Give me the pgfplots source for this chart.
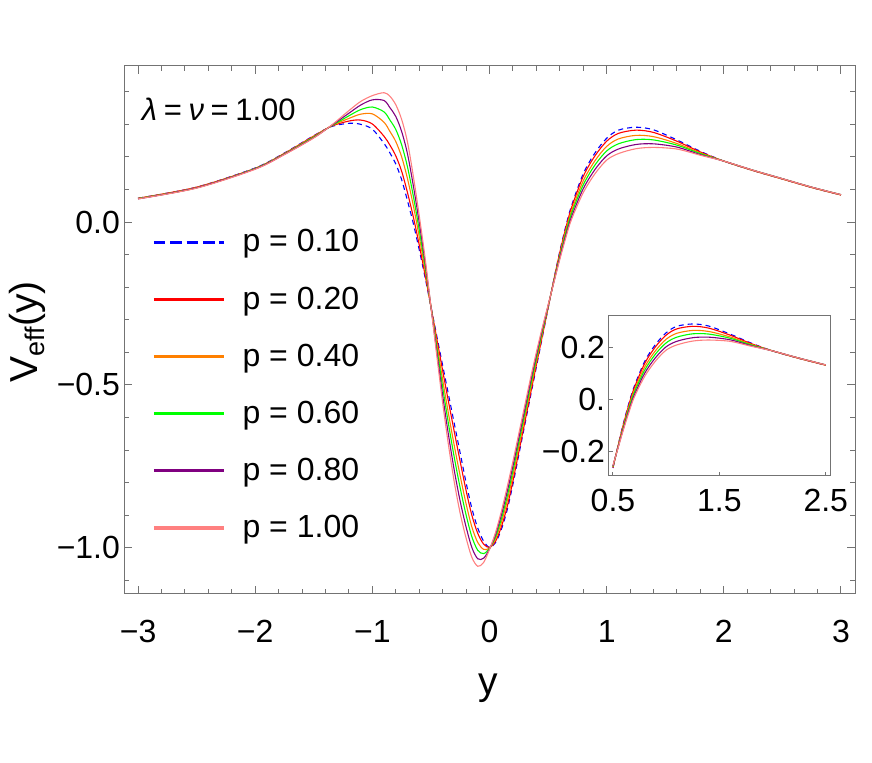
\documentclass[border=0pt]{standalone}
\usepackage{pgfplots}
\pgfplotsset{compat=1.18}
\usepackage{pgfplotstable}
\usepackage{fontspec}
\setmainfont{Liberation Sans}

\definecolor{mmaorange}{rgb}{1,0.5,0}
\definecolor{mmapurple}{rgb}{0.5,0,0.5}
\definecolor{mmapink}{rgb}{1,0.5,0.5}
\definecolor{framegray}{gray}{0.45}

% V_eff(y), columns: p=0.10 (b), 0.20 (r), 0.40 (o), 0.60 (g), 0.80 (u), 1.00 (k)
\pgfplotstableread{
x      b       r       o       g       u       k
-3.00  0.073   0.073   0.072   0.072   0.071   0.071
-2.50  0.107   0.107   0.106   0.105   0.105   0.104
-2.00  0.166   0.165   0.164   0.164   0.163   0.162
-1.75  0.212   0.211   0.210   0.209   0.208   0.207
-1.50  0.265   0.264   0.262   0.261   0.259   0.258
-1.35  0.293   0.294   0.295   0.295   0.296   0.297
-1.20  0.303   0.310   0.318   0.326   0.334   0.342
-1.10  0.300   0.313   0.331   0.345   0.359   0.370
-1.00  0.285   0.301   0.332   0.353   0.375   0.388
-0.90  0.241   0.263   0.306   0.338   0.373   0.397
-0.85  0.212   0.236   0.278   0.313   0.351   0.386
-0.80  0.178   0.203   0.247   0.284   0.324   0.360
-0.75  0.130   0.156   0.200   0.237   0.278   0.315
-0.70  0.065   0.090   0.133   0.169   0.209   0.245
-0.65  -0.005  0.015   0.050   0.079   0.111   0.140
-0.60  -0.085  -0.070  -0.045  -0.024  -0.001  0.020
-0.55  -0.170  -0.162  -0.147  -0.135  -0.122  -0.110
-0.50  -0.260  -0.260  -0.260  -0.260  -0.260  -0.260
-0.45  -0.350  -0.358  -0.373  -0.385  -0.398  -0.410
-0.40  -0.440  -0.456  -0.484  -0.507  -0.532  -0.555
-0.35  -0.530  -0.552  -0.589  -0.620  -0.654  -0.685
-0.30  -0.620  -0.645  -0.688  -0.724  -0.764  -0.800
-0.25  -0.710  -0.736  -0.780  -0.817  -0.858  -0.895
-0.20  -0.800  -0.824  -0.865  -0.899  -0.936  -0.970
-0.15  -0.880  -0.901  -0.937  -0.967  -1.000  -1.030
-0.10  -0.940  -0.956  -0.984  -1.008  -1.034  -1.057
-0.05  -0.980  -0.989  -1.005  -1.018  -1.032  -1.045
0.00   -0.999  -0.999  -1.001  -1.002  -1.004  -1.005
0.05   -0.985  -0.981  -0.974  -0.968  -0.961  -0.955
0.10   -0.945  -0.937  -0.924  -0.913  -0.901  -0.890
0.15   -0.885  -0.875  -0.858  -0.844  -0.829  -0.815
0.20   -0.805  -0.795  -0.778  -0.764  -0.749  -0.735
0.25   -0.715  -0.706  -0.690  -0.677  -0.663  -0.650
0.30   -0.625  -0.617  -0.602  -0.590  -0.577  -0.565
0.35   -0.535  -0.527  -0.514  -0.503  -0.491  -0.480
0.40   -0.445  -0.439  -0.428  -0.419  -0.409  -0.400
0.45   -0.355  -0.351  -0.344  -0.338  -0.331  -0.325
0.50   -0.265  -0.264  -0.261  -0.259  -0.257  -0.255
0.55   -0.175  -0.176  -0.179  -0.181  -0.183  -0.185
0.60   -0.090  -0.094  -0.100  -0.105  -0.110  -0.115
0.65   -0.015  -0.020  -0.028  -0.035  -0.043  -0.050
0.70   0.050   0.044   0.034   0.026   0.016   0.008
0.80   0.148   0.140   0.126   0.114   0.102   0.090
0.90   0.212   0.203   0.188   0.175   0.161   0.148
1.00   0.257   0.248   0.232   0.218   0.203   0.190
1.10   0.282   0.272   0.255   0.240   0.224   0.210
1.25   0.291   0.282   0.266   0.253   0.238   0.225
1.40   0.283   0.275   0.262   0.252   0.240   0.229
1.60   0.252   0.248   0.241   0.236   0.230   0.224
1.80   0.217   0.215   0.212   0.210   0.207   0.205
2.00   0.187   0.187   0.187   0.187   0.187   0.187
2.25   0.158   0.158   0.158   0.159   0.159   0.159
2.50   0.132   0.132   0.132   0.133   0.133   0.133
2.75   0.106   0.106   0.106   0.107   0.107   0.107
3.00   0.083   0.083   0.083   0.084   0.084   0.084
}\veff

\pgfplotsset{
  curve/.style={line width=0.55pt, smooth, forget plot},
  mmaframe/.style={
    scale only axis, anchor=south west,
    axis line style={framegray, line width=0.5pt},
    tick style={framegray, line width=0.5pt},
    tick align=inside,
    ticklabel style={font=\fontsize{16}{19}\selectfont, text=black},
  },
}

\begin{document}
\begin{tikzpicture}
\path[use as bounding box] (0,0) rectangle (436pt,381.5pt);

% main plot
\begin{axis}[
  mmaframe,
  at={(62pt,84.5pt)},
  width=365.5pt, height=264pt,
  xmin=-3.12, xmax=3.12, ymin=-1.142, ymax=0.479,
  xtick={-3,-2,-1,0,1,2,3},
  xticklabels={−3,−2,−1,0,1,2,3},
  ytick={-1,-0.5,0},
  yticklabels={−1.0,−0.5,0.0},
  minor xtick={-3.0,-2.8,...,3.05},
  minor ytick={-1.1,-1.0,...,0.45},
  major tick length=4pt, minor tick length=2.6pt,
  xticklabel style={yshift=-9.5pt},
  yticklabel style={xshift=1.5pt},
  legend style={at={(rel axis cs:0.038,0.691)}, anchor=north west,
    draw=none, fill=none, inner sep=0pt, row sep=15.9pt,
    font=\fontsize{16}{18}\selectfont, nodes={inner sep=0pt}},
  legend cell align=left,
  legend image code/.code={\draw[#1] (0pt,0pt) -- (35pt,0pt);},
  /tikz/every odd column/.append style={column sep=8.5pt},
]
\addplot[curve, blue, dash pattern=on 2.5pt off 2pt] table[x=x, y=b]{\veff};
\addplot[curve, red] table[x=x, y=r]{\veff};
\addplot[curve, mmaorange] table[x=x, y=o]{\veff};
\addplot[curve, green] table[x=x, y=g]{\veff};
\addplot[curve, mmapurple] table[x=x, y=u]{\veff};
\addplot[curve, mmapink] table[x=x, y=k]{\veff};

\addlegendimage{blue, line width=1.7pt, dash pattern=on 5.8pt off 2.4pt}
\addlegendentry{p = 0.10}
\addlegendimage{red, line width=1.7pt}
\addlegendentry{p = 0.20}
\addlegendimage{mmaorange, line width=1.7pt}
\addlegendentry{p = 0.40}
\addlegendimage{green, line width=1.7pt}
\addlegendentry{p = 0.60}
\addlegendimage{mmapurple, line width=1.7pt}
\addlegendentry{p = 0.80}
\addlegendimage{mmapink, line width=1.7pt}
\addlegendentry{p = 1.00}

\node[anchor=west, inner sep=0pt, font=\fontsize{15.5}{19}\selectfont]
  at (rel axis cs:0.024,0.917)
  {{\itshape λ}\hspace{3.3pt}=\hspace{3.3pt}{\itshape ν}\hspace{3.3pt}=\hspace{3.3pt}1.00};
\end{axis}

% inset
\begin{axis}[
  mmaframe,
  at={(304.35pt,143.5pt)},
  width=110.65pt, height=80.15pt,
  xmin=0.46, xmax=2.54, ymin=-0.296, ymax=0.323,
  xtick={0.5,1.5,2.5}, xticklabels={0.5,1.5,2.5},
  ytick={-0.2,0,0.2}, yticklabels={−0.2,0.,0.2},
  tick pos=left, major tick length=2.2pt,
  xticklabel style={yshift=-3pt},
  yticklabel style={xshift=1.7pt},
  axis background/.style={fill=white},
]
\addplot[curve, blue, dash pattern=on 2.5pt off 2pt, restrict x to domain=0.5:2.5] table[x=x, y=b]{\veff};
\addplot[curve, red, restrict x to domain=0.5:2.5] table[x=x, y=r]{\veff};
\addplot[curve, mmaorange, restrict x to domain=0.5:2.5] table[x=x, y=o]{\veff};
\addplot[curve, green, restrict x to domain=0.5:2.5] table[x=x, y=g]{\veff};
\addplot[curve, mmapurple, restrict x to domain=0.5:2.5] table[x=x, y=u]{\veff};
\addplot[curve, mmapink, restrict x to domain=0.5:2.5] table[x=x, y=k]{\veff};
\end{axis}

% axis labels
\node[rotate=90, font=\fontsize{19.5}{22}\selectfont] at (13.5pt,215.5pt)
  {V\raisebox{-0.35ex}{\fontsize{13.5}{15}\selectfont eff}(y)};
\node[font=\fontsize{19.5}{22}\selectfont] at (244pt,37.5pt) {y};
\end{tikzpicture}
\end{document}
